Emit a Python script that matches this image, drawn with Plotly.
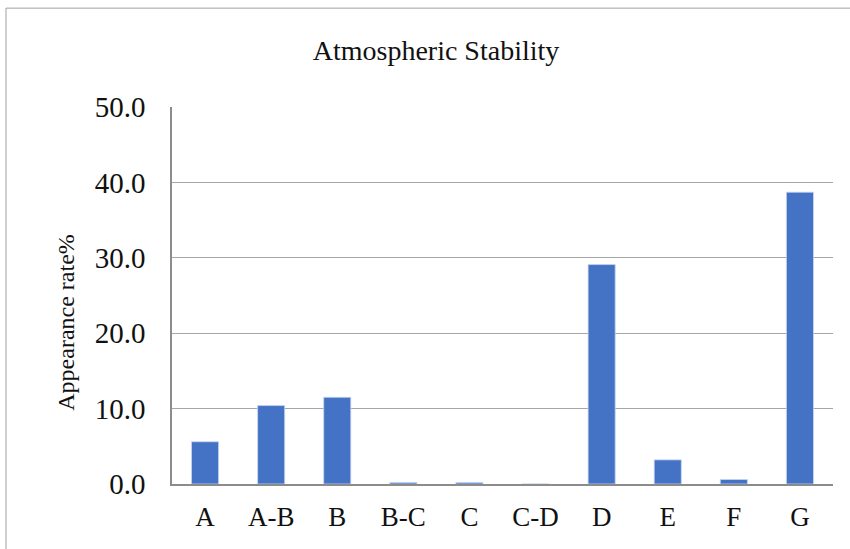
import plotly.graph_objects as go

categories = ["A", "A-B", "B", "B-C", "C", "C-D", "D", "E", "F", "G"]
values = [5.6, 10.4, 11.5, 0.2, 0.2, 0.0, 29.1, 3.2, 0.6, 38.7]
tick_vals = [0, 10, 20, 30, 40, 50]

FONT = "Liberation Serif, DejaVu Serif, serif"

fig = go.Figure(go.Bar(
    x=categories, y=values,
    marker=dict(color="#4472C4", line=dict(color="#c9d6ef", width=0.8)),
))

L, R, T, B = 172, 17, 107, 64.5
W, H = 850, 549
pw = W - L - R
ph = H - T - B

fig.update_layout(
    width=W, height=H,
    margin=dict(l=L, r=R, t=T, b=B, pad=0, autoexpand=False),
    paper_bgcolor="white", plot_bgcolor="white",
    bargap=0.59,
    showlegend=False,
    title=dict(text="Atmospheric Stability", x=436 / W, xref="container", xanchor="center",
               y=1 - 50 / H, yref="container", yanchor="middle",
               font=dict(family=FONT, size=28, color="#111")),
    font=dict(family=FONT, color="#111"),
    xaxis=dict(showline=True, linecolor="#8c8c8c", linewidth=2, ticks="",
               tickfont=dict(size=27, color="#111"), showgrid=False,
               ticklabelstandoff=8, automargin=False),
    yaxis=dict(range=[0, 50], tickvals=tick_vals, tickformat=".1f",
               showgrid=True, gridcolor="#a6a6a6", gridwidth=1.3,
               showline=True, linecolor="#8c8c8c", linewidth=1.5,
               zeroline=False, ticks="", ticklabelstandoff=19,
               tickfont=dict(size=29, color="#111"), automargin=False),
    annotations=[dict(text="Appearance rate%", textangle=-90, showarrow=False,
                      xref="paper", yref="paper",
                      x=(66 - L) / pw, y=(H - B - 322) / ph,
                      xanchor="center", yanchor="middle",
                      font=dict(family=FONT, size=24, color="#111"))],
    shapes=[dict(type="rect", xref="paper", yref="paper",
                 x0=(6 - L) / pw, x1=1.2, y0=-0.5, y1=(H - B - 8) / ph,
                 line=dict(color="#a0a0a0", width=1), fillcolor="rgba(0,0,0,0)", layer="below")],
)

fig.write_html("out.html", config={"displayModeBar": False},
               post_script="document.body.style.margin='0';document.body.style.overflow='hidden';")
